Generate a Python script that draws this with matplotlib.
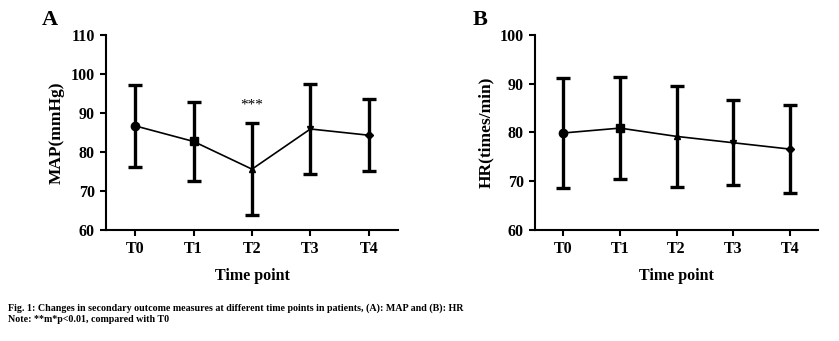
import numpy as np
import matplotlib.pyplot as plt

plt.rcParams['font.family'] = ['Liberation Serif', 'DejaVu Serif']
plt.rcParams['font.weight'] = 'bold'

# Data
time_points = ['T0', 'T1', 'T2', 'T3', 'T4']
map_mean = [86.7, 82.7, 75.6, 85.9, 84.3]
map_sd = [10.6, 10.1, 11.8, 11.5, 9.3]
hr_mean = [79.9, 80.9, 79.2, 77.9, 76.6]
hr_sd = [11.2, 10.4, 10.3, 8.7, 9.0]
markers = ['o', 's', '^', 'v', 'D']
marker_sizes = [6, 6, 5, 5, 4]

fig = plt.figure(figsize=(8.39, 3.41), dpi=100)
axA = fig.add_axes([0.1263, 0.3255, 0.3481, 0.5719])
axB = fig.add_axes([0.6377, 0.3255, 0.3373, 0.5719])


def draw_panel(ax, means, sds, ylim, ylabel, letter):
    x = np.arange(len(time_points))
    ax.plot(x, means, color='black', lw=1.2, zorder=2)
    ax.errorbar(x, means, yerr=sds, fmt='none', ecolor='black',
                elinewidth=2.4, capsize=5, capthick=2.4, zorder=3)
    for i in range(len(x)):
        ax.plot(x[i], means[i], marker=markers[i], ms=marker_sizes[i],
                color='black', zorder=4)
    ax.set_xlim(-0.5, 4.5)
    ax.set_ylim(*ylim)
    ax.set_yticks(np.arange(ylim[0], ylim[1] + 1, 10))
    ax.set_xticks(x)
    ax.set_xticklabels(time_points)
    for s in ['top', 'right']:
        ax.spines[s].set_visible(False)
    for s in ['left', 'bottom']:
        ax.spines[s].set_linewidth(1.5)
    ax.tick_params(width=1.5, length=4, labelsize=11.5, pad=4)
    ax.set_xlabel('Time point', fontsize=11.5, fontweight='bold', labelpad=8)
    ax.set_ylabel(ylabel, fontsize=12.5, fontweight='bold', labelpad=4)
    ax.text(-0.22, 1.05, letter, transform=ax.transAxes, fontsize=16,
            fontweight='bold', va='baseline', ha='left')


draw_panel(axA, map_mean, map_sd, (60, 110), 'MAP(mmHg)', 'A')
draw_panel(axB, hr_mean, hr_sd, (60, 100), 'HR(times/min)', 'B')

axA.text(2, 90.3, '***', ha='center', va='bottom', fontsize=11,
         fontweight='normal')

fig.text(0.01, 0.097, 'Fig. 1: Changes in secondary outcome measures at different time points in patients, (A): MAP and (B): HR',
         fontsize=7.2, fontweight='bold', va='center')
fig.text(0.01, 0.062, 'Note: **m*p<0.01, compared with T0',
         fontsize=7.2, fontweight='bold', va='center')

fig.savefig('out.png', dpi=100)
